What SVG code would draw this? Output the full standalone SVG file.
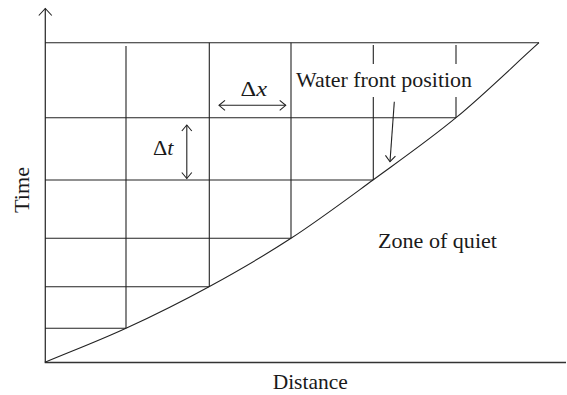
<svg xmlns="http://www.w3.org/2000/svg" width="567" height="395" viewBox="0 0 567 395">
  <style>
    .ln { stroke: #222; stroke-width: 1.1; fill: none; }
    .ax { stroke: #333; stroke-width: 1.3; fill: none; }
    .txt { font-family: "Liberation Serif", "Times New Roman", serif; font-size: 21px; fill: #1a1a1a; }
    .it { font-style: italic; }
  </style>
  <defs>
    <marker id="head" markerUnits="userSpaceOnUse" viewBox="-8 -7 10 14" refX="0" refY="0" markerWidth="10" markerHeight="14" orient="auto-start-reverse">
      <path d="M-6,-5 L0,0 L-6,5" fill="none" stroke="#222" stroke-width="1.1"/>
    </marker>
    <marker id="axhead" markerUnits="userSpaceOnUse" viewBox="-9 -8 11 16" refX="0" refY="0" markerWidth="11" markerHeight="16" orient="auto">
      <path d="M-7,-6.5 L0,0 L-7,6.5" fill="none" stroke="#222" stroke-width="1.1"/>
    </marker>
  </defs>
  <rect width="567" height="395" fill="#fff"/>

  <g id="axes">
    <line class="ax" x1="45.3" y1="362.5" x2="45.3" y2="8.5" marker-end="url(#axhead)"/>
    <line class="ax" x1="44.7" y1="362.5" x2="566" y2="362.5"/>
  </g>

  <g id="grid">
    <line class="ln" x1="45" y1="42.7" x2="539" y2="42.7"/>
    <line class="ln" x1="45" y1="117.7" x2="456" y2="117.7"/>
    <line class="ln" x1="45" y1="180" x2="373" y2="180"/>
    <line class="ln" x1="45" y1="238.3" x2="291" y2="238.3"/>
    <line class="ln" x1="45" y1="286.7" x2="209" y2="286.7"/>
    <line class="ln" x1="45" y1="328.3" x2="126" y2="328.3"/>
    <line class="ln" x1="126" y1="46" x2="126" y2="328.3"/>
    <line class="ln" x1="209.3" y1="42.7" x2="209.3" y2="286.7"/>
    <line class="ln" x1="291" y1="42.7" x2="291" y2="238.3"/>
    <line class="ln" x1="373.3" y1="45" x2="373.3" y2="64"/>
    <line class="ln" x1="373.3" y1="97" x2="373.3" y2="180"/>
    <line class="ln" x1="456" y1="45" x2="456" y2="64"/>
    <line class="ln" x1="456" y1="97" x2="456" y2="117.7"/>
  </g>

  <g id="water-front">
    <path class="ln" d="M45,362.3 C72,351 98.7,340.9 126,328.3 C153.3,315.7 181.5,301.7 209,286.7 C236.5,271.7 263.7,256.1 291,238.3 C318.3,220.5 345.5,200.1 373,180 C400.5,159.9 428.3,140.6 456,117.7 C483.7,94.8 511.3,67.7 539,42.7"/>
  </g>

  <g id="connectors">
    <line class="ln" x1="219" y1="105.3" x2="285.7" y2="105.3" marker-start="url(#head)" marker-end="url(#head)"/>
    <line class="ln" x1="186.8" y1="125" x2="186.8" y2="178.5" marker-start="url(#head)" marker-end="url(#head)"/>
    <line class="ln" x1="394.3" y1="101.7" x2="390" y2="161.7" marker-end="url(#head)"/>
  </g>

  <g id="labels">
    <text class="txt" x="240.5" y="96" textLength="26.5" lengthAdjust="spacingAndGlyphs">Δ<tspan class="it">x</tspan></text>
    <text class="txt" x="153" y="155" textLength="20.5" lengthAdjust="spacingAndGlyphs">Δ<tspan class="it">t</tspan></text>
    <text class="txt" x="296" y="87.3" textLength="176" lengthAdjust="spacingAndGlyphs">Water front position</text>
    <text class="txt" x="378" y="247.7" textLength="119" lengthAdjust="spacingAndGlyphs">Zone of quiet</text>
    <text class="txt" x="272.7" y="389" textLength="75" lengthAdjust="spacingAndGlyphs">Distance</text>
    <text class="txt" transform="translate(28.5,213) rotate(-90)" x="0" y="0" textLength="46" lengthAdjust="spacingAndGlyphs">Time</text>
  </g>
</svg>
